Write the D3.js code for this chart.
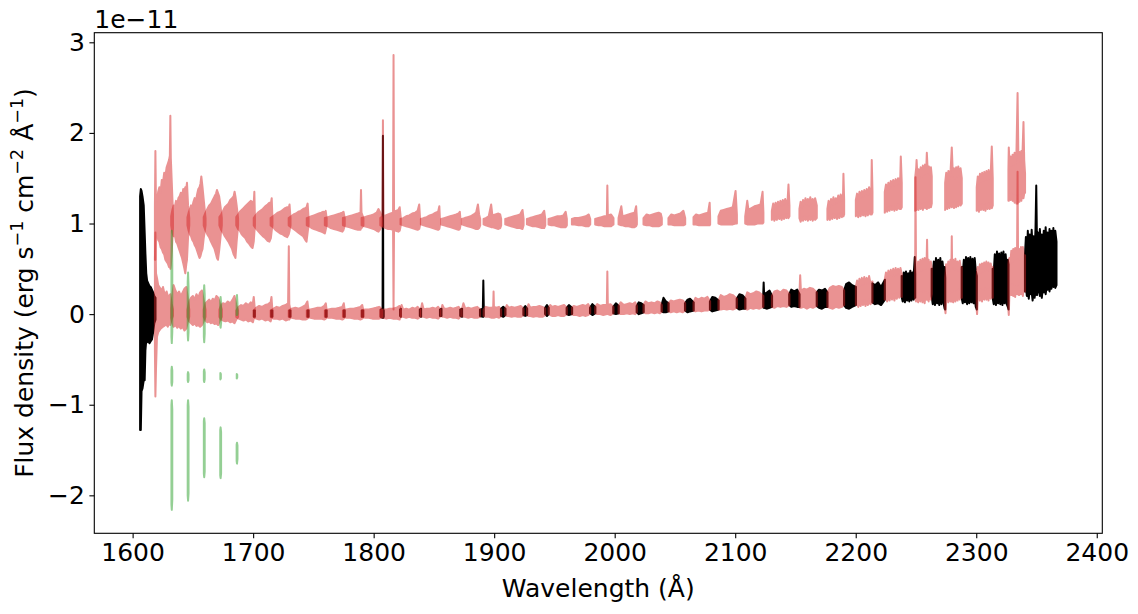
<!DOCTYPE html>
<html lang="en">
<head>
<meta charset="UTF-8">
<title>spectrum</title>
<script src="https://cdn.jsdelivr.net/npm/d3@7/dist/d3.min.js"></script>
<style>
body{margin:0;background:#fff}
text{font-family:"DejaVu Sans",sans-serif;fill:#000}
</style>
</head>
<body>
<script>
// ---------------- data (flux in units of 1e-11, each point = [wavelength, low, high]) --------------

// black: merged spectrum, visible in the gaps between orders
var blackSegments = [
  [[1606.2,-1.28,1.30],[1606.8,-1.28,1.38],[1607.4,-0.85,1.36],[1608.2,-0.82,1.30],[1609.2,-0.73,1.20],[1610.0,-0.73,0.90],[1610.6,-0.40,0.67],[1611.3,-0.29,0.45],[1612.0,-0.31,0.37],[1613.0,-0.30,0.34],[1614.0,-0.32,0.31],[1615.0,-0.30,0.30],[1616.0,-0.28,0.27],[1617.0,-0.20,0.24],[1618.0,-0.10,0.20],[1619.0,-0.06,0.18]],
  [[1700.6,-0.03,0.04],[1701.4,-0.03,0.04]],
  [[1715.0,-0.03,0.04],[1715.9,-0.03,0.04]],
  [[1730.1,-0.03,0.04],[1730.9,-0.03,0.04]],
  [[1745.1,-0.03,0.04],[1745.9,-0.03,0.04]],
  [[1760.1,-0.03,0.04],[1760.9,-0.03,0.04]],
  [[1775.1,-0.03,0.04],[1775.9,-0.03,0.04]],
  [[1790.2,-0.03,0.04],[1791.3,-0.03,0.04]],
  [[1805.8,-0.03,0.05],[1807.4,-0.04,0.06],[1807.7,-0.04,1.97],[1808.0,-0.04,0.05],[1808.4,-0.03,0.04]],
  [[1821.9,-0.02,0.05],[1822.6,-0.03,0.06]],
  [[1838.3,-0.02,0.05],[1839.4,-0.03,0.06]],
  [[1855.0,-0.02,0.05],[1856.3,-0.02,0.06]],
  [[1871.8,-0.02,0.05],[1873.4,-0.03,0.06]],
  [[1888.2,-0.02,0.05],[1890.6,-0.03,0.06],[1891.0,-0.03,0.37],[1891.4,-0.02,0.06]],
  [[1905.6,-0.02,0.06],[1907.5,-0.03,0.08],[1909.4,-0.01,0.06]],
  [[1924.2,-0.01,0.06],[1925.8,-0.02,0.09],[1927.4,-0.01,0.06]],
  [[1942.2,0.00,0.07],[1943.8,-0.02,0.10],[1945.3,0.00,0.07]],
  [[1960.1,0.00,0.07],[1962.0,-0.01,0.10],[1964.7,0.00,0.07]],
  [[1979.5,0.01,0.07],[1981.5,-0.01,0.11],[1984.0,0.01,0.08]],
  [[1998.8,0.01,0.08],[2001.0,0.00,0.12],[2003.4,0.01,0.09]],
  [[2018.2,0.02,0.09],[2020.0,0.00,0.13],[2022.0,0.01,0.12],[2024.1,0.02,0.10]],
  [[2038.9,0.03,0.10],[2040.5,0.02,0.18],[2042.5,0.02,0.14],[2044.8,0.03,0.12]],
  [[2058.3,0.04,0.12],[2060.5,0.02,0.16],[2062.5,0.03,0.17],[2065.6,0.04,0.13]],
  [[2079.0,0.05,0.14],[2081.0,0.03,0.19],[2083.5,0.04,0.18],[2086.3,0.05,0.15]],
  [[2101.2,0.07,0.17],[2103.5,0.05,0.22],[2106.0,0.06,0.21],[2108.5,0.06,0.17]],
  [[2123.2,0.08,0.20],[2123.6,0.07,0.35],[2124.0,0.07,0.22],[2126.5,0.06,0.24],[2128.5,0.07,0.26],[2130.6,0.08,0.20]],
  [[2144.8,0.10,0.22],[2146.5,0.08,0.27],[2149.0,0.09,0.25],[2151.5,0.08,0.27],[2153.4,0.08,0.22]],
  [[2167.6,0.09,0.24],[2169.5,0.07,0.27],[2172.0,0.06,0.26],[2174.5,0.08,0.28],[2176.6,0.08,0.24]],
  [[2190.3,0.10,0.26],[2192.0,0.07,0.33],[2194.5,0.06,0.35],[2197.0,0.08,0.32],[2200.2,0.10,0.30]],
  [[2213.8,0.13,0.34],[2216.0,0.11,0.32],[2218.5,0.12,0.35],[2221.0,0.10,0.30],[2224.2,0.16,0.38]],
  [[2238.1,0.19,0.42],[2239.0,0.14,0.36],[2239.9,0.22,0.46],[2240.8,0.13,0.38],[2241.7,0.21,0.47],[2242.6,0.15,0.37],[2243.5,0.23,0.45],[2244.4,0.14,0.39],[2245.3,0.22,0.48],[2246.2,0.15,0.40],[2247.1,0.24,0.46],[2248.0,0.16,0.41],[2249.0,0.20,0.63],[2249.4,0.18,0.45]],
  [[2263.0,0.20,0.50],[2263.9,0.11,0.42],[2264.8,0.19,0.58],[2265.7,0.10,0.45],[2266.6,0.18,0.62],[2267.5,0.12,0.44],[2268.4,0.20,0.60],[2269.3,0.10,0.46],[2270.2,0.17,0.62],[2271.1,0.11,0.43],[2272.0,0.19,0.58],[2272.9,0.12,0.47],[2273.8,0.06,0.52],[2274.3,0.05,0.40]],
  [[2287.9,0.18,0.52],[2288.8,0.12,0.44],[2289.7,0.20,0.60],[2290.6,0.13,0.46],[2291.5,0.19,0.63],[2292.4,0.11,0.47],[2293.3,0.21,0.62],[2294.2,0.12,0.45],[2295.1,0.18,0.63],[2296.0,0.13,0.48],[2296.9,0.20,0.61],[2297.8,0.12,0.46],[2298.7,0.19,0.62],[2299.6,0.08,0.48],[2300.5,0.05,0.42]],
  [[2313.6,0.18,0.50],[2314.5,0.11,0.45],[2315.4,0.19,0.66],[2316.3,0.10,0.48],[2317.2,0.18,0.69],[2318.1,0.12,0.50],[2319.0,0.20,0.67],[2319.9,0.11,0.47],[2320.8,0.19,0.68],[2321.7,0.10,0.52],[2322.6,0.18,0.69],[2323.5,0.12,0.49],[2324.4,0.20,0.66],[2325.3,0.11,0.50],[2326.2,0.08,0.60],[2326.8,0.05,0.55]],
  [[2340.4,0.25,0.65],[2341.2,0.30,0.85],[2342.0,0.20,0.62],[2342.8,0.26,0.92],[2343.6,0.17,0.70],[2344.4,0.30,0.88],[2345.2,0.22,0.60],[2346.0,0.24,0.93],[2346.8,0.15,0.72],[2347.6,0.28,0.86],[2348.4,0.18,0.66],[2349.2,0.25,0.95],[2349.8,0.22,1.42],[2350.4,0.21,0.78],[2351.2,0.30,0.90],[2352.0,0.26,0.64],[2352.8,0.20,0.94],[2353.6,0.32,0.70],[2354.4,0.18,0.88],[2355.2,0.28,0.62],[2356.0,0.24,0.92],[2356.8,0.34,0.74],[2357.6,0.22,0.96],[2358.4,0.30,0.68],[2359.2,0.27,0.90],[2360.0,0.36,0.72],[2360.8,0.25,0.94],[2361.6,0.33,0.66],[2362.4,0.28,0.92],[2363.2,0.38,0.74],[2364.0,0.30,0.95],[2364.8,0.35,0.70],[2365.6,0.29,0.92],[2366.6,0.32,0.80]]
];

// red, upper: orders shifted by +1e-11
var upperOrders = [
  [[1618.5,0.60,1.20],[1618.9,0.60,1.80],[1619.3,0.85,1.30],[1620.2,0.90,1.25],[1621.2,0.82,1.35],[1622.2,0.80,1.40],[1623.2,0.74,1.34],[1624.2,0.72,1.48],[1625.2,0.68,1.45],[1626.2,0.66,1.56],[1627.2,0.60,1.52],[1628.2,0.58,1.62],[1629.2,0.56,1.66],[1630.2,0.52,1.70],[1630.9,0.55,1.75],[1631.3,0.50,2.19],[1631.7,0.54,1.72],[1632.5,0.70,1.45],[1633.5,0.95,1.10]],
  [[1632.0,0.98,1.08],[1633.0,0.90,1.15],[1634.0,0.86,1.20],[1635.0,0.88,1.18],[1636.0,0.80,1.25],[1637.0,0.78,1.22],[1638.0,0.74,1.28],[1639.0,0.70,1.30],[1640.0,0.66,1.34],[1641.0,0.62,1.30],[1642.0,0.56,1.38],[1643.0,0.50,1.36],[1643.7,0.45,1.40],[1644.5,0.55,1.38],[1645.1,0.60,1.45],[1646.0,0.85,1.20],[1647.0,0.98,1.06]],
  [[1645.5,0.98,1.07],[1646.5,0.92,1.12],[1647.5,0.88,1.16],[1648.5,0.86,1.20],[1649.5,0.82,1.18],[1650.5,0.80,1.24],[1651.5,0.76,1.28],[1652.5,0.74,1.25],[1653.5,0.70,1.32],[1654.5,0.66,1.38],[1655.5,0.62,1.40],[1656.3,0.64,1.44],[1657.0,0.68,1.52],[1658.0,0.72,1.40],[1659.0,0.84,1.26],[1660.5,0.98,1.06]],
  [[1659.0,0.98,1.07],[1660.5,0.92,1.12],[1662.0,0.88,1.16],[1663.5,0.85,1.20],[1665.0,0.80,1.22],[1666.5,0.76,1.26],[1668.0,0.72,1.30],[1669.2,0.66,1.33],[1670.0,0.62,1.37],[1670.8,0.60,1.34],[1671.8,0.70,1.30],[1673.0,0.86,1.18],[1674.0,0.98,1.06]],
  [[1672.0,0.98,1.07],[1673.5,0.93,1.10],[1675.0,0.90,1.14],[1676.5,0.86,1.18],[1678.0,0.83,1.20],[1679.5,0.80,1.22],[1681.0,0.76,1.26],[1682.5,0.72,1.28],[1683.8,0.66,1.30],[1684.6,0.64,1.35],[1685.3,0.62,1.30],[1686.3,0.80,1.20],[1687.5,0.98,1.06]],
  [[1686.0,0.98,1.07],[1687.5,0.94,1.10],[1689.0,0.92,1.13],[1690.5,0.88,1.15],[1692.0,0.86,1.17],[1693.5,0.84,1.19],[1695.0,0.80,1.21],[1696.5,0.78,1.23],[1698.0,0.75,1.25],[1699.5,0.73,1.24],[1700.5,0.80,1.22],[1701.0,0.90,1.35],[1701.5,0.98,1.06]],
  [[1700.5,0.98,1.06],[1702.0,0.95,1.09],[1704.0,0.92,1.12],[1706.0,0.89,1.14],[1708.0,0.86,1.16],[1710.0,0.84,1.19],[1712.0,0.81,1.21],[1713.5,0.80,1.23],[1714.7,0.84,1.22],[1715.4,0.92,1.28],[1716.0,0.98,1.06]],
  [[1714.5,0.98,1.06],[1716.5,0.96,1.08],[1718.5,0.93,1.10],[1720.5,0.91,1.12],[1722.5,0.89,1.13],[1724.5,0.88,1.15],[1726.5,0.86,1.17],[1728.3,0.85,1.18],[1729.5,0.88,1.17],[1730.2,0.92,1.21],[1731.0,0.98,1.06]],
  [[1729.5,0.98,1.06],[1731.5,0.96,1.08],[1733.5,0.94,1.10],[1735.5,0.92,1.11],[1737.5,0.90,1.13],[1739.5,0.88,1.14],[1741.5,0.86,1.16],[1743.2,0.82,1.17],[1744.3,0.80,1.18],[1745.2,0.90,1.22],[1746.0,0.98,1.06]],
  [[1744.5,0.98,1.06],[1746.5,0.97,1.07],[1748.5,0.95,1.08],[1750.5,0.94,1.09],[1752.5,0.93,1.10],[1754.5,0.92,1.11],[1756.5,0.91,1.12],[1758.3,0.90,1.13],[1759.5,0.89,1.12],[1760.2,0.93,1.14],[1761.0,0.98,1.06]],
  [[1759.5,0.98,1.06],[1762.0,0.97,1.07],[1764.5,0.95,1.08],[1767.0,0.94,1.09],[1769.5,0.93,1.10],[1772.0,0.92,1.11],[1774.0,0.91,1.12],[1775.0,0.93,1.13],[1776.0,0.98,1.06]],
  [[1774.5,0.98,1.06],[1777.0,0.97,1.07],[1779.5,0.96,1.08],[1782.0,0.95,1.09],[1784.5,0.94,1.10],[1787.0,0.93,1.11],[1789.1,0.93,1.12],[1789.5,0.95,1.37],[1789.9,0.95,1.12],[1791.5,0.98,1.06]],
  [[1790.0,0.98,1.06],[1792.5,0.97,1.07],[1795.0,0.96,1.08],[1797.5,0.95,1.09],[1800.0,0.94,1.10],[1802.5,0.92,1.12],[1804.0,0.91,1.16],[1805.5,0.94,1.12],[1807.0,0.98,1.06]],
  [[1805.5,0.98,1.06],[1807.3,0.97,1.08],[1807.7,1.10,2.14],[1808.1,0.96,1.08],[1810.0,0.95,1.09],[1812.0,0.94,1.10],[1814.0,0.94,1.11],[1816.1,0.93,1.12],[1816.5,0.05,2.86],[1816.9,0.93,1.13],[1818.5,0.92,1.14],[1820.5,0.91,1.15],[1821.6,0.92,1.18],[1822.5,0.98,1.06]],
  [[1822.3,0.99,1.05],[1824.5,0.98,1.06],[1827.0,0.97,1.08],[1829.5,0.96,1.09],[1832.0,0.95,1.11],[1834.5,0.94,1.12],[1836.5,0.93,1.14],[1837.8,0.94,1.21],[1838.5,0.98,1.06]],
  [[1839.2,0.99,1.05],[1841.5,0.98,1.06],[1844.0,0.97,1.07],[1846.5,0.96,1.09],[1849.0,0.95,1.10],[1851.5,0.94,1.12],[1853.5,0.93,1.13],[1854.5,0.94,1.19],[1855.0,0.98,1.05]],
  [[1856.1,0.99,1.05],[1858.5,0.98,1.06],[1861.0,0.97,1.07],[1863.5,0.96,1.08],[1866.0,0.95,1.09],[1868.5,0.94,1.10],[1870.5,0.93,1.11],[1871.5,0.94,1.13],[1872.0,0.98,1.05]],
  [[1873.2,0.99,1.05],[1875.5,0.98,1.06],[1878.0,0.97,1.07],[1880.5,0.96,1.08],[1883.0,0.95,1.10],[1885.0,0.94,1.12],[1886.5,0.94,1.21],[1887.5,0.95,1.10],[1888.4,0.98,1.05]],
  [[1891.2,0.99,1.05],[1893.0,0.98,1.06],[1895.5,0.97,1.08],[1897.5,0.96,1.21],[1898.5,0.96,1.09],[1901.0,0.95,1.10],[1903.5,0.94,1.11],[1905.0,0.95,1.10],[1905.8,0.98,1.05]],
  [[1909.2,0.99,1.05],[1911.5,0.98,1.06],[1914.0,0.97,1.07],[1916.5,0.96,1.08],[1919.0,0.95,1.09],[1921.5,0.95,1.10],[1923.5,0.94,1.15],[1924.4,0.98,1.05]],
  [[1927.2,0.99,1.05],[1929.5,0.98,1.06],[1932.0,0.97,1.07],[1934.5,0.97,1.08],[1937.0,0.96,1.09],[1939.5,0.95,1.10],[1941.5,0.95,1.14],[1942.4,0.98,1.05]],
  [[1945.1,0.99,1.05],[1947.5,0.98,1.06],[1950.0,0.98,1.07],[1952.5,0.97,1.08],[1955.0,0.96,1.08],[1957.5,0.96,1.09],[1959.3,0.96,1.13],[1960.3,0.98,1.05]],
  [[1964.5,0.99,1.05],[1967.0,0.99,1.06],[1970.0,0.98,1.06],[1973.0,0.98,1.07],[1976.0,0.97,1.08],[1978.5,0.97,1.10],[1979.7,0.99,1.05]],
  [[1983.8,0.99,1.05],[1986.5,0.98,1.06],[1989.0,0.98,1.07],[1991.5,0.97,1.08],[1993.5,0.97,1.08],[1993.9,0.97,1.42],[1994.3,0.97,1.09],[1997.0,0.97,1.10],[1999.0,0.99,1.06]],
  [[2003.2,0.99,1.06],[2005.5,0.98,1.19],[2006.5,0.98,1.08],[2009.0,0.97,1.09],[2011.5,0.97,1.10],[2014.0,0.96,1.11],[2016.5,0.96,1.12],[2017.8,0.97,1.19],[2018.4,0.99,1.06]],
  [[2023.9,0.99,1.06],[2026.5,0.98,1.10],[2029.0,0.98,1.09],[2031.5,0.97,1.10],[2034.0,0.97,1.11],[2036.5,0.97,1.12],[2038.2,0.98,1.11],[2039.1,0.99,1.06]],
  [[2044.6,0.99,1.06],[2047.0,0.99,1.10],[2049.5,0.98,1.09],[2052.0,0.98,1.10],[2054.5,0.98,1.11],[2057.0,0.98,1.14],[2058.5,0.99,1.06]],
  [[2065.4,0.99,1.07],[2067.5,0.99,1.10],[2070.0,0.98,1.09],[2072.5,0.98,1.10],[2075.0,0.98,1.11],[2077.5,0.98,1.12],[2078.8,0.98,1.23],[2079.2,0.99,1.07]],
  [[2086.1,1.00,1.08],[2088.0,0.99,1.14],[2090.5,0.99,1.15],[2093.0,0.99,1.16],[2095.5,0.99,1.17],[2098.0,0.99,1.18],[2100.3,1.00,1.36],[2101.4,1.00,1.10]],
  [[2108.3,1.00,1.08],[2110.0,0.99,1.25],[2111.0,0.99,1.15],[2113.5,0.99,1.17],[2116.0,0.99,1.19],[2118.5,1.00,1.20],[2121.0,1.00,1.21],[2122.7,1.00,1.35],[2123.4,1.01,1.12]],
  [[2130.4,1.04,1.14],[2131.5,1.08,1.22],[2132.5,1.03,1.16],[2133.5,1.07,1.23],[2134.5,1.04,1.18],[2135.5,1.09,1.24],[2136.5,1.05,1.19],[2137.5,1.08,1.25],[2138.5,1.04,1.20],[2139.5,1.09,1.26],[2140.5,1.05,1.21],[2141.5,1.10,1.27],[2142.5,1.06,1.22],[2143.5,1.10,1.26],[2144.2,1.06,1.43],[2145.0,1.08,1.20]],
  [[2153.3,1.06,1.16],[2154.3,1.02,1.24],[2155.3,1.07,1.18],[2156.3,1.03,1.26],[2157.3,1.08,1.20],[2158.3,1.04,1.28],[2159.3,1.07,1.21],[2160.3,1.03,1.27],[2161.3,1.08,1.20],[2162.3,1.04,1.29],[2163.3,1.07,1.22],[2164.3,1.03,1.27],[2165.3,1.08,1.21],[2166.3,1.04,1.28],[2167.7,1.06,1.20]],
  [[2176.5,1.04,1.16],[2177.5,1.08,1.25],[2178.5,1.04,1.19],[2179.5,1.09,1.27],[2180.5,1.05,1.21],[2181.5,1.10,1.29],[2182.5,1.06,1.22],[2183.5,1.09,1.28],[2184.5,1.05,1.23],[2185.5,1.10,1.31],[2186.5,1.06,1.24],[2187.5,1.11,1.32],[2188.5,1.07,1.25],[2189.5,1.10,1.33],[2189.8,1.08,1.55],[2190.4,1.10,1.26]],
  [[2200.1,1.08,1.26],[2201.1,1.12,1.33],[2202.1,1.07,1.27],[2203.1,1.11,1.35],[2204.1,1.08,1.29],[2205.1,1.13,1.36],[2206.1,1.09,1.30],[2207.1,1.12,1.37],[2208.1,1.08,1.31],[2209.1,1.13,1.38],[2210.1,1.09,1.32],[2211.1,1.14,1.40],[2212.1,1.10,1.33],[2213.0,1.13,1.39],[2213.3,1.10,1.70],[2213.9,1.12,1.35]],
  [[2224.1,1.12,1.35],[2225.1,1.17,1.43],[2226.1,1.13,1.37],[2227.1,1.18,1.45],[2228.1,1.14,1.39],[2229.1,1.19,1.47],[2230.1,1.15,1.41],[2231.1,1.20,1.48],[2232.1,1.14,1.42],[2233.1,1.19,1.49],[2234.1,1.15,1.43],[2235.1,1.21,1.50],[2236.1,1.16,1.44],[2237.0,1.20,1.52],[2237.4,1.16,1.74],[2238.2,1.18,1.45]],
  [[2249.3,1.14,1.50],[2250.2,1.20,1.62],[2250.5,1.15,1.70],[2251.2,1.21,1.52],[2252.1,1.15,1.60],[2253.0,1.22,1.50],[2253.9,1.16,1.62],[2254.8,1.21,1.52],[2255.7,1.15,1.64],[2256.6,1.22,1.54],[2257.5,1.17,1.65],[2258.4,1.23,1.55],[2259.0,1.16,1.78],[2259.8,1.22,1.56],[2260.7,1.17,1.63],[2261.6,1.24,1.54],[2262.4,1.18,1.62],[2263.1,1.22,1.52]],
  [[2274.2,1.15,1.45],[2275.1,1.21,1.56],[2276.0,1.16,1.47],[2276.9,1.22,1.58],[2277.8,1.17,1.49],[2278.8,1.22,1.60],[2279.7,1.18,1.84],[2280.6,1.23,1.52],[2281.5,1.17,1.61],[2282.4,1.24,1.50],[2283.3,1.18,1.62],[2284.2,1.23,1.52],[2285.1,1.19,1.63],[2286.0,1.24,1.53],[2287.0,1.20,1.61],[2288.0,1.22,1.50]],
  [[2300.4,1.14,1.40],[2301.3,1.19,1.52],[2302.2,1.13,1.44],[2303.1,1.20,1.55],[2304.0,1.15,1.46],[2304.9,1.21,1.56],[2305.8,1.15,1.47],[2306.7,1.20,1.57],[2307.6,1.14,1.48],[2308.5,1.21,1.58],[2309.4,1.16,1.49],[2310.3,1.22,1.59],[2311.2,1.16,1.50],[2312.1,1.21,1.58],[2312.9,1.17,1.85],[2313.7,1.20,1.50]],
  [[2326.7,1.25,1.60],[2327.0,1.25,1.84],[2327.8,1.32,1.62],[2328.6,1.26,1.74],[2329.4,1.33,1.64],[2330.2,1.25,1.76],[2331.0,1.31,1.65],[2331.8,1.23,1.78],[2332.6,1.30,1.66],[2333.4,1.22,1.80],[2334.3,1.22,2.44],[2335.0,1.30,1.70],[2335.8,1.24,1.79],[2336.6,1.31,1.68],[2337.4,1.25,1.80],[2338.2,1.32,1.70],[2339.2,1.28,2.12],[2339.8,1.33,1.70],[2340.5,1.34,1.55]]
];

// red, lower: the same orders at their own level
var lowerOrders = [
  [[1618.5,-0.40,0.60],[1618.9,-0.91,0.90],[1619.4,-0.60,0.45],[1620.2,-0.25,0.40],[1621.2,-0.20,0.32],[1622.2,-0.18,0.30],[1623.2,-0.16,0.28],[1624.2,-0.15,0.26],[1625.2,-0.14,0.30],[1626.2,-0.13,0.24],[1627.2,-0.12,0.22],[1628.2,-0.12,0.25],[1629.2,-0.14,0.20],[1630.2,-0.10,0.20],[1631.2,-0.12,0.22],[1632.3,-0.06,0.12],[1633.5,-0.02,0.05]],
  [[1632.0,-0.04,0.06],[1633.0,-0.10,0.22],[1634.0,-0.14,0.32],[1635.5,-0.12,0.26],[1637.0,-0.15,0.22],[1638.5,-0.13,0.25],[1640.0,-0.16,0.20],[1641.5,-0.14,0.24],[1643.0,-0.18,0.28],[1644.5,-0.16,0.30],[1645.5,-0.10,0.20],[1647.0,-0.03,0.05]],
  [[1645.5,-0.03,0.05],[1647.0,-0.08,0.14],[1648.5,-0.10,0.18],[1650.0,-0.12,0.20],[1651.5,-0.10,0.16],[1653.0,-0.13,0.22],[1654.5,-0.12,0.18],[1656.0,-0.14,0.24],[1657.5,-0.12,0.26],[1659.0,-0.08,0.15],[1660.5,-0.03,0.05]],
  [[1659.0,-0.03,0.05],[1660.5,-0.07,0.12],[1662.0,-0.09,0.14],[1663.5,-0.08,0.16],[1665.0,-0.10,0.13],[1666.5,-0.09,0.17],[1668.0,-0.11,0.15],[1669.5,-0.10,0.20],[1671.0,-0.12,0.18],[1672.5,-0.07,0.12],[1674.0,-0.03,0.05]],
  [[1672.0,-0.03,0.05],[1673.5,-0.06,0.10],[1675.0,-0.07,0.12],[1677.0,-0.08,0.11],[1679.0,-0.07,0.14],[1681.0,-0.09,0.12],[1683.0,-0.08,0.16],[1684.5,-0.10,0.20],[1686.0,-0.06,0.10],[1687.5,-0.03,0.04]],
  [[1686.0,-0.03,0.04],[1688.0,-0.05,0.08],[1690.0,-0.06,0.10],[1692.0,-0.07,0.09],[1694.0,-0.06,0.12],[1696.0,-0.08,0.10],[1698.0,-0.07,0.13],[1699.8,-0.09,0.12],[1700.5,-0.05,0.19],[1701.5,-0.03,0.04]],
  [[1700.5,-0.03,0.04],[1702.5,-0.05,0.07],[1705.0,-0.06,0.09],[1707.5,-0.05,0.08],[1710.0,-0.07,0.10],[1712.5,-0.06,0.11],[1714.5,-0.08,0.13],[1715.2,-0.05,0.19],[1716.0,-0.03,0.04]],
  [[1714.5,-0.03,0.04],[1717.0,-0.05,0.06],[1719.5,-0.05,0.08],[1722.0,-0.06,0.07],[1724.5,-0.05,0.09],[1727.0,-0.07,0.10],[1729.0,-0.06,0.12],[1729.6,-0.05,0.75],[1730.0,-0.06,0.11],[1731.0,-0.03,0.04]],
  [[1729.5,-0.03,0.04],[1732.0,-0.04,0.06],[1735.0,-0.05,0.07],[1738.0,-0.05,0.06],[1741.0,-0.06,0.08],[1743.5,-0.06,0.10],[1745.0,-0.05,0.14],[1746.0,-0.03,0.04]],
  [[1744.5,-0.03,0.04],[1747.5,-0.04,0.05],[1750.5,-0.05,0.06],[1753.5,-0.05,0.07],[1756.5,-0.05,0.07],[1759.0,-0.06,0.09],[1760.3,-0.05,0.12],[1761.0,-0.03,0.04]],
  [[1759.5,-0.03,0.04],[1762.5,-0.04,0.05],[1765.5,-0.04,0.06],[1768.5,-0.05,0.06],[1771.5,-0.05,0.07],[1774.0,-0.06,0.08],[1775.2,-0.05,0.12],[1776.0,-0.03,0.04]],
  [[1774.5,-0.03,0.04],[1777.5,-0.04,0.05],[1780.5,-0.04,0.06],[1783.5,-0.05,0.06],[1786.5,-0.05,0.07],[1789.0,-0.06,0.08],[1790.5,-0.05,0.10],[1791.5,-0.03,0.04]],
  [[1790.0,-0.03,0.04],[1793.0,-0.04,0.05],[1796.0,-0.04,0.05],[1799.0,-0.05,0.06],[1802.0,-0.05,0.07],[1804.5,-0.05,0.08],[1806.0,-0.04,0.07],[1807.0,-0.03,0.04]],
  [[1805.5,-0.03,0.04],[1808.0,-0.04,0.05],[1810.5,-0.05,0.05],[1813.0,-0.04,0.06],[1816.0,-0.05,0.06],[1819.0,-0.05,0.07],[1821.5,-0.06,0.09],[1822.5,-0.03,0.04]],
  [[1822.3,-0.02,0.06],[1823.2,-0.03,0.10],[1824.5,-0.03,0.05],[1827.0,-0.04,0.06],[1829.5,-0.03,0.05],[1832.0,-0.04,0.07],[1834.5,-0.04,0.06],[1836.5,-0.05,0.08],[1838.4,-0.03,0.05]],
  [[1839.2,-0.02,0.05],[1840.2,-0.03,0.12],[1841.5,-0.03,0.05],[1844.0,-0.04,0.06],[1846.5,-0.03,0.06],[1849.0,-0.04,0.07],[1851.5,-0.04,0.06],[1853.5,-0.05,0.08],[1855.0,-0.03,0.05]],
  [[1856.1,-0.02,0.05],[1857.0,-0.03,0.10],[1858.5,-0.03,0.06],[1861.0,-0.04,0.06],[1863.5,-0.03,0.07],[1866.0,-0.04,0.06],[1868.5,-0.04,0.07],[1870.5,-0.05,0.08],[1871.9,-0.03,0.05]],
  [[1873.2,-0.02,0.05],[1874.5,-0.03,0.12],[1876.0,-0.03,0.06],[1878.5,-0.04,0.07],[1881.0,-0.03,0.06],[1883.5,-0.04,0.07],[1886.0,-0.04,0.08],[1888.4,-0.03,0.05]],
  [[1891.2,-0.02,0.05],[1893.0,-0.03,0.08],[1895.5,-0.03,0.07],[1898.0,-0.04,0.07],[1899.2,-0.04,0.08],[1899.5,-0.04,0.25],[1899.8,-0.04,0.08],[1902.0,-0.03,0.07],[1904.0,-0.04,0.08],[1905.8,-0.02,0.05]],
  [[1909.2,-0.01,0.06],[1910.5,-0.02,0.10],[1912.0,-0.02,0.07],[1914.5,-0.03,0.08],[1917.0,-0.02,0.07],[1919.5,-0.03,0.08],[1922.0,-0.03,0.09],[1924.4,-0.01,0.06]],
  [[1927.2,-0.01,0.06],[1928.5,-0.02,0.11],[1930.0,-0.02,0.07],[1932.5,-0.03,0.08],[1935.0,-0.02,0.08],[1937.5,-0.03,0.09],[1940.0,-0.03,0.08],[1942.4,-0.01,0.06]],
  [[1945.1,0.00,0.07],[1946.5,-0.01,0.10],[1948.0,-0.02,0.08],[1950.5,-0.02,0.09],[1953.0,-0.01,0.08],[1955.5,-0.02,0.09],[1958.0,-0.02,0.10],[1960.3,0.00,0.07]],
  [[1964.5,0.00,0.07],[1966.0,-0.01,0.09],[1968.5,-0.01,0.08],[1971.0,-0.02,0.09],[1973.5,-0.01,0.10],[1976.0,-0.02,0.09],[1978.0,-0.01,0.11],[1979.7,0.01,0.07]],
  [[1983.8,0.01,0.08],[1985.5,0.00,0.11],[1988.0,0.00,0.09],[1990.5,-0.01,0.10],[1993.5,0.00,0.10],[1993.9,0.00,0.47],[1994.3,0.00,0.10],[1996.5,-0.01,0.11],[1999.0,0.01,0.08]],
  [[2003.2,0.01,0.09],[2005.0,0.00,0.13],[2007.5,0.00,0.10],[2010.0,0.01,0.11],[2012.5,0.00,0.12],[2015.0,0.01,0.11],[2017.0,0.00,0.13],[2018.4,0.02,0.09]],
  [[2023.9,0.02,0.10],[2025.5,0.01,0.14],[2028.0,0.01,0.12],[2030.5,0.02,0.13],[2033.0,0.01,0.12],[2035.5,0.02,0.14],[2037.5,0.01,0.13],[2039.1,0.03,0.10]],
  [[2044.6,0.03,0.12],[2046.5,0.02,0.15],[2049.0,0.03,0.14],[2051.5,0.02,0.15],[2054.0,0.03,0.16],[2056.5,0.02,0.15],[2058.5,0.04,0.12]],
  [[2065.4,0.04,0.13],[2067.0,0.03,0.18],[2069.5,0.04,0.16],[2072.0,0.03,0.18],[2074.5,0.04,0.17],[2077.0,0.04,0.19],[2079.2,0.05,0.14]],
  [[2086.1,0.05,0.15],[2088.0,0.05,0.21],[2090.5,0.06,0.19],[2093.0,0.05,0.20],[2095.5,0.06,0.22],[2098.0,0.05,0.21],[2101.4,0.07,0.17]],
  [[2108.3,0.06,0.17],[2110.0,0.05,0.24],[2112.5,0.07,0.22],[2115.0,0.06,0.23],[2117.5,0.07,0.25],[2120.0,0.06,0.24],[2123.4,0.08,0.20]],
  [[2130.4,0.08,0.20],[2132.5,0.07,0.25],[2135.0,0.09,0.26],[2137.5,0.08,0.24],[2140.0,0.09,0.27],[2142.5,0.08,0.26],[2145.0,0.10,0.22]],
  [[2153.3,0.08,0.22],[2153.9,0.07,0.43],[2154.5,0.07,0.26],[2157.0,0.08,0.28],[2159.5,0.06,0.27],[2162.0,0.08,0.29],[2164.5,0.07,0.28],[2167.7,0.09,0.24]],
  [[2176.5,0.08,0.24],[2178.5,0.07,0.29],[2181.0,0.06,0.31],[2183.5,0.08,0.30],[2186.0,0.07,0.31],[2188.5,0.08,0.30],[2190.4,0.10,0.26]],
  [[2200.1,0.10,0.30],[2201.1,0.14,0.37],[2202.1,0.08,0.31],[2203.1,0.13,0.39],[2204.1,0.09,0.32],[2205.1,0.14,0.40],[2206.1,0.10,0.33],[2207.1,0.15,0.41],[2208.1,0.09,0.34],[2209.1,0.14,0.40],[2210.1,0.10,0.34],[2211.1,0.16,0.42],[2212.1,0.11,0.35],[2213.9,0.13,0.36]],
  [[2224.1,0.16,0.38],[2225.1,0.20,0.46],[2226.1,0.14,0.40],[2227.1,0.21,0.48],[2228.1,0.15,0.41],[2229.1,0.22,0.49],[2230.1,0.16,0.42],[2231.1,0.22,0.50],[2232.1,0.15,0.43],[2233.1,0.23,0.51],[2234.1,0.17,0.44],[2235.1,0.23,0.50],[2236.1,0.18,0.45],[2237.1,0.24,0.51],[2238.2,0.19,0.44]],
  [[2249.3,0.18,0.45],[2249.6,0.17,1.51],[2250.0,0.14,0.55],[2250.9,0.22,0.45],[2251.8,0.13,0.58],[2252.7,0.23,0.47],[2253.6,0.14,0.60],[2254.5,0.24,0.48],[2255.4,0.13,0.61],[2256.3,0.25,0.49],[2257.2,0.12,0.62],[2258.1,0.24,0.50],[2258.9,0.16,0.63],[2259.2,0.16,0.82],[2259.6,0.22,0.52],[2260.5,0.14,0.60],[2261.4,0.24,0.50],[2262.3,0.16,0.58],[2263.1,0.22,0.50]],
  [[2274.2,0.05,0.40],[2274.5,0.01,0.45],[2275.0,0.14,0.55],[2275.9,0.24,0.46],[2276.8,0.13,0.58],[2277.7,0.25,0.48],[2278.6,0.14,0.60],[2279.4,0.22,0.50],[2279.7,0.14,0.86],[2280.0,0.23,0.52],[2280.9,0.13,0.60],[2281.8,0.26,0.49],[2282.7,0.14,0.61],[2283.6,0.25,0.50],[2284.5,0.15,0.58],[2285.4,0.27,0.48],[2286.3,0.16,0.59],[2287.2,0.26,0.50],[2288.0,0.18,0.52]],
  [[2300.4,0.05,0.42],[2300.7,0.00,0.48],[2301.2,0.16,0.52],[2302.1,0.26,0.45],[2303.0,0.15,0.55],[2303.9,0.27,0.46],[2304.8,0.14,0.56],[2305.7,0.26,0.47],[2306.6,0.16,0.57],[2307.5,0.28,0.48],[2308.4,0.16,0.58],[2309.3,0.27,0.49],[2310.2,0.15,0.57],[2311.1,0.28,0.48],[2312.0,0.17,0.56],[2312.9,0.27,0.49],[2313.7,0.18,0.52]],
  [[2326.7,0.05,0.55],[2327.0,-0.01,0.60],[2327.5,0.22,0.62],[2328.3,0.32,0.56],[2329.1,0.21,0.70],[2329.9,0.33,0.58],[2330.7,0.20,0.72],[2331.5,0.31,0.60],[2332.3,0.19,0.73],[2333.1,0.32,0.61],[2333.9,0.22,0.74],[2334.3,0.22,1.57],[2334.7,0.30,0.62],[2335.5,0.21,0.72],[2336.3,0.34,0.60],[2337.1,0.22,0.74],[2337.9,0.33,0.62],[2338.7,0.20,0.74],[2339.5,0.32,0.64],[2340.5,0.25,0.65]]
];

// green: order-overlap columns (null = gap in the line)
var greenColumns = [
  [[1632.2,-0.25,0.60],[1632.5,-0.32,0.92],[1632.9,-0.20,0.55],null,[1632.2,-0.76,-0.62],[1632.5,-0.79,-0.58],[1632.9,-0.75,-0.62],null,[1632.2,-2.10,-1.00],[1632.5,-2.16,-0.95],[1632.9,-2.05,-1.05]],
  [[1645.7,-0.22,0.35],[1646.0,-0.29,0.46],[1646.4,-0.20,0.30],null,[1645.7,-0.73,-0.66],[1646.0,-0.75,-0.64],[1646.4,-0.73,-0.66],null,[1645.7,-2.00,-1.00],[1646.0,-2.06,-0.95],[1646.4,-1.98,-1.02]],
  [[1659.1,-0.25,0.25],[1659.4,-0.31,0.32],[1659.8,-0.22,0.22],null,[1659.1,-0.73,-0.63],[1659.4,-0.75,-0.61],[1659.8,-0.72,-0.64],null,[1659.1,-1.76,-1.18],[1659.4,-1.80,-1.15],[1659.8,-1.74,-1.20]],
  [[1672.7,-0.12,0.15],[1673.0,-0.15,0.19],[1673.4,-0.10,0.12],null,[1672.8,-0.72,-0.65],[1673.2,-0.71,-0.66],null,[1672.7,-1.78,-1.28],[1673.0,-1.81,-1.25],[1673.4,-1.76,-1.30]],
  [[1686.3,-0.01,0.15],[1686.6,-0.01,0.21],[1687.0,0.00,0.12],null,[1686.4,-0.71,-0.66],[1686.8,-0.70,-0.67],null,[1686.3,-1.62,-1.44],[1686.6,-1.65,-1.42],[1687.0,-1.60,-1.45]]
];

var xTicks = [1600,1700,1800,1900,2000,2100,2200,2300,2400];
var yTicks = [-2,-1,0,1,2,3];

// ---------------- drawing ----------------
var W = 1138, H = 614;
var plotLeft = 94.3, plotRight = 1102.3, plotTop = 32.7, plotBottom = 533.3;
var fontSize = 25;

var x = d3.scaleLinear().domain([1568.2, 2404.6]).range([plotLeft, plotRight]);
var y = d3.scaleLinear().domain([-2.419, 3.106]).range([plotBottom, plotTop]);

var svg = d3.select("body").append("svg")
    .attr("width", W)
    .attr("height", H);

var band = d3.area()
    .defined(function (d) { return d !== null; })
    .x(function (d) { return x(d[0]); })
    .y0(function (d) { return y(d[1]); })
    .y1(function (d) { return y(d[2]); });

var plot = svg.append("g");

// black first, then the red orders (one path each, alpha 0.5), green on top
plot.selectAll("path.black")
    .data(blackSegments)
    .enter().append("path")
    .attr("class", "black")
    .attr("d", band)
    .attr("fill", "#000")
    .attr("stroke", "#000")
    .attr("stroke-width", 2)
    .attr("stroke-linejoin", "round");

function drawOrders(list, cls, colour) {
    plot.selectAll("path." + cls)
        .data(list)
        .enter().append("path")
        .attr("class", cls)
        .attr("d", band)
        .attr("fill", colour)
        .attr("stroke", colour)
        .attr("stroke-width", 2)
        .attr("stroke-linejoin", "round")
        .attr("opacity", 0.5);
}
drawOrders(upperOrders, "upper", "#d62728");
drawOrders(lowerOrders, "lower", "#d62728");
drawOrders(greenColumns, "green", "#2ca02c");

// axes
var xAxis = d3.axisBottom(x).tickValues(xTicks).tickSize(4.9).tickPadding(4.6).tickFormat(d3.format("d"));
var yAxis = d3.axisLeft(y).tickValues(yTicks).tickSize(4.9).tickPadding(4.6)
    .tickFormat(function (d) { return d < 0 ? "\u2212" + Math.abs(d) : String(d); });

var gx = svg.append("g").attr("transform", "translate(0," + plotBottom + ")").call(xAxis);
var gy = svg.append("g").attr("transform", "translate(" + plotLeft + ",0)").call(yAxis);
[gx, gy].forEach(function (g) {
    g.select(".domain").remove();
    g.selectAll("line").attr("stroke", "#000").attr("stroke-width", 1.1);
    g.selectAll("text").attr("font-family", "DejaVu Sans").attr("font-size", fontSize).attr("fill", "#000");
});

svg.append("rect")
    .attr("x", plotLeft).attr("y", plotTop)
    .attr("width", plotRight - plotLeft).attr("height", plotBottom - plotTop)
    .attr("fill", "none").attr("stroke", "#000").attr("stroke-width", 1.1);

// offset text
svg.append("text")
    .attr("x", plotLeft).attr("y", 28)
    .attr("font-size", fontSize)
    .text("1e\u221211");

svg.append("text")
    .attr("x", (plotLeft + plotRight) / 2).attr("y", 597)
    .attr("text-anchor", "middle")
    .attr("font-size", fontSize)
    .text("Wavelength (\u00c5)");

var yl = svg.append("text")
    .attr("transform", "translate(33," + ((plotTop + plotBottom) / 2) + ") rotate(-90)")
    .attr("text-anchor", "middle")
    .attr("font-size", fontSize);
yl.append("tspan").text("Flux density (erg s");
yl.append("tspan").attr("dy", -10).attr("font-size", 17.5).text("\u22121");
yl.append("tspan").attr("dy", 10).text(" cm");
yl.append("tspan").attr("dy", -10).attr("font-size", 17.5).text("\u22122");
yl.append("tspan").attr("dy", 10).text(" \u00c5");
yl.append("tspan").attr("dy", -10).attr("font-size", 17.5).text("\u22121");
yl.append("tspan").attr("dy", 10).text(")");
</script>
</body>
</html>
